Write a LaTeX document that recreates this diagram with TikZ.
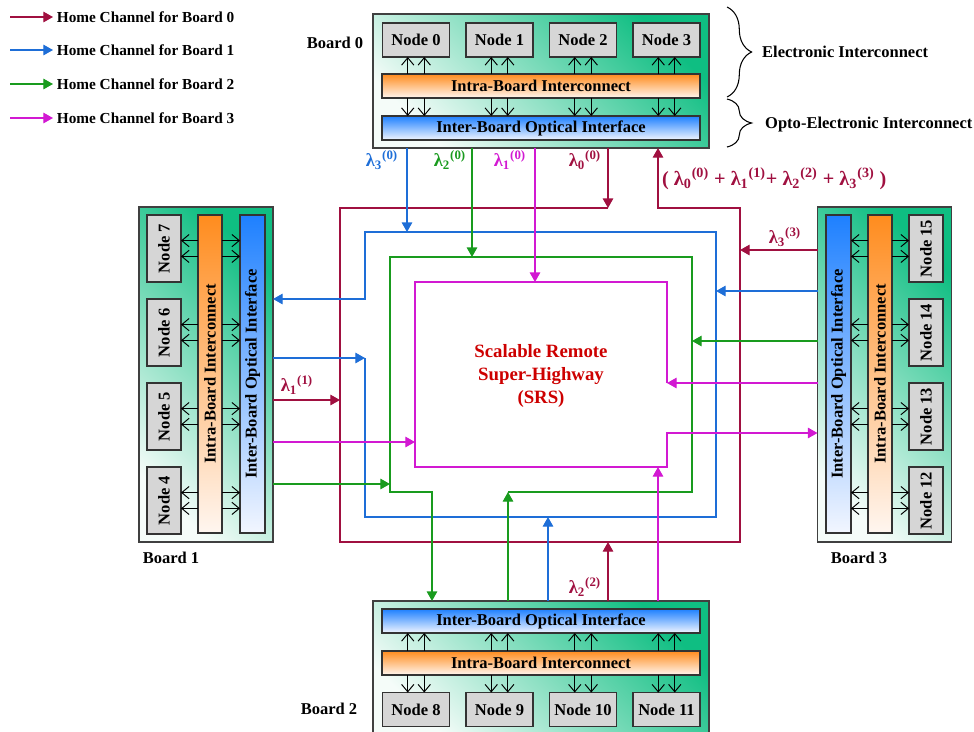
\documentclass[tikz,border=0pt]{standalone}
\usepackage{fontspec}
\setmainfont{Liberation Serif}
\usetikzlibrary{arrows.meta,decorations.pathreplacing}

\definecolor{chzero}{RGB}{160,16,64}
\definecolor{chone}{RGB}{30,110,215}
\definecolor{chtwo}{RGB}{25,155,30}
\definecolor{chthree}{RGB}{210,25,210}
\definecolor{boardgreen}{RGB}{15,190,130}
\definecolor{boardpale}{RGB}{245,252,249}
\definecolor{intraorange}{RGB}{255,140,30}
\definecolor{intrapale}{RGB}{255,246,240}
\definecolor{interblue}{RGB}{30,128,255}
\definecolor{interpale}{RGB}{242,246,255}
\definecolor{srsred}{RGB}{205,0,0}

\newcommand\boxfont{\fontsize{9.4}{11}\selectfont\bfseries}
\newcommand\keyfont{\fontsize{8.7}{10}\selectfont\bfseries}
\newcommand\lamfont{\fontsize{10.5}{12}\selectfont\bfseries}
\newcommand\srsfont{\fontsize{10.7}{13.3}\selectfont\bfseries}

\tikzset{
  board/.style n args={2}{draw=black!75, line width=0.8pt, top color=boardgreen,
    bottom color=boardpale, shading angle=315, minimum width=#1*0.02cm,
    minimum height=#2*0.02cm, inner sep=0pt, outer sep=0pt},
  part/.style n args={2}{draw=black!80, line width=0.6pt, minimum width=#1*0.02cm,
    minimum height=#2*0.02cm, inner sep=0pt, outer sep=0pt, font=\boxfont},
  nodebox/.style={fill=black!16},
  intrabar/.style={top color=intraorange, bottom color=intrapale},
  interbar/.style={top color=interblue, bottom color=interpale},
  barb/.style={-{Straight Barb[length=4.2pt,width=7pt]}, line width=0.55pt},
  tip/.style={-{Triangle[length=5.5pt,width=6pt]}},
  homezero/.style={draw=chzero, line width=0.75pt},
  homeone/.style={draw=chone, line width=0.75pt},
  hometwo/.style={draw=chtwo, line width=0.75pt},
  homethree/.style={draw=chthree, line width=0.75pt},
  lam/.style={font=\lamfont, inner sep=1pt},
  brace/.style={decorate, decoration={brace, amplitude=14pt}, line width=0.6pt}
}

\begin{document}
\begin{tikzpicture}[x=0.02cm,y=-0.02cm]
  \useasboundingbox (0,0) rectangle (974,731);
  \clip (0,0) rectangle (974,731);

  % legend
  \foreach \k/\y/\c in {0/17/homezero,1/50/homeone,2/84/hometwo,3/118/homethree} {
    \node[font=\keyfont, anchor=west, inner sep=2pt] (key\k) at (53,\y) {Home Channel for Board \k};
    \coordinate (keys\k) at (10,\y);
    \draw[\c, tip] (keys\k) -- (key\k.west);
  }

  % board 0
  \node[board={336}{134}] (b0) at (541,81) {};
  \foreach \i/\x in {0/416,1/499.5,2/583,3/666.5}
    \node[part={67}{34}, nodebox] (n\i) at (\x,40) {Node \i};
  \node[part={318}{24}, intrabar] (ia0) at (541,86) {Intra-Board Interconnect};
  \node[part={318}{24}, interbar] (ie0) at (541,128) {Inter-Board Optical Interface};
  \foreach \i in {0,...,3} \foreach \d in {-4.7pt,4.7pt} {
    \draw[barb] ([xshift=\d]n\i.south |- ia0.north) -- ([xshift=\d]n\i.south);
    \draw[barb] ([xshift=\d]n\i.south |- ia0.south) -- ([xshift=\d]n\i.south |- ie0.north);
  }
  \node[font=\boxfont] (lb0) at (335,43) {Board 0};

  % board 2
  \node[board={336}{134}] (b2) at (541,668) {};
  \node[part={318}{24}, interbar] (ie2) at (541,621) {Inter-Board Optical Interface};
  \node[part={318}{24}, intrabar] (ia2) at (541,663) {Intra-Board Interconnect};
  \foreach \i/\x in {8/416,9/499.5,10/583,11/666.5}
    \node[part={67}{34}, nodebox] (n\i) at (\x,709.5) {Node \i};
  \foreach \i in {8,...,11} \foreach \d in {-4.7pt,4.7pt} {
    \draw[barb] ([xshift=\d]n\i.north |- ia2.north) -- ([xshift=\d]n\i.north |- ie2.south);
    \draw[barb] ([xshift=\d]n\i.north |- ia2.south) -- ([xshift=\d]n\i.north);
  }
  \node[font=\boxfont] (lb2) at (329,709) {Board 2};

  % board 1
  \node[board={134}{335}] (b1) at (206,374.5) {};
  \foreach \i/\y in {7/248.5,6/332.5,5/416.5,4/500.5}
    \node[part={34}{67}, nodebox] (n\i) at (164,\y) {\rotatebox{90}{Node \i}};
  \node[part={24}{318}, intrabar] (ia1) at (210,374) {\rotatebox{90}{Intra-Board Interconnect}};
  \node[part={25}{318}, interbar] (ie1) at (252.5,374) {\rotatebox{90}{Inter-Board Optical Interface}};
  \foreach \i in {4,...,7} \foreach \d in {-4.5pt,4.5pt} {
    \draw[barb] ([yshift=\d]ia1.west |- n\i.east) -- ([yshift=\d]n\i.east);
    \draw[barb] ([yshift=\d]ia1.east |- n\i.east) -- ([yshift=\d]ie1.west |- n\i.east);
  }
  \node[font=\boxfont] (lb1) at (171,558) {Board 1};

  % board 3
  \node[board={134}{335}] (b3) at (884.5,374.5) {};
  \node[part={25}{318}, interbar] (ie3) at (838.5,374) {\rotatebox{90}{Inter-Board Optical Interface}};
  \node[part={24}{318}, intrabar] (ia3) at (880,374) {\rotatebox{90}{Intra-Board Interconnect}};
  \foreach \i/\y in {15/248.5,14/332.5,13/416.5,12/500.5}
    \node[part={34}{67}, nodebox] (n\i) at (926,\y) {\rotatebox{90}{Node \i}};
  \foreach \i in {12,...,15} \foreach \d in {-4.5pt,4.5pt} {
    \draw[barb] ([yshift=\d]ia3.west |- n\i.west) -- ([yshift=\d]ie3.east |- n\i.west);
    \draw[barb] ([yshift=\d]ia3.east |- n\i.west) -- ([yshift=\d]n\i.west);
  }
  \node[font=\boxfont] (lb3) at (859,558) {Board 3};

  % braces
  \draw[brace] (727,7) -- (727,97);
  \draw[brace] (727,99) -- (727,147);
  \node[font=\boxfont, anchor=west] (elec) at (756,52) {Electronic Interconnect};
  \node[font=\boxfont, anchor=west] (opto) at (759,125) {Opto-Electronic Interconnect};

  % home channel of board 0
  \coordinate (z0) at (608,208); \coordinate (z1) at (340,400);
  \coordinate (z2) at (608,542); \coordinate (z3) at (740,250);
  \coordinate (zout) at (658,208);
  \draw[homezero, tip] (z0) -- (340,208) -- (340,542) -- (740,542) -- (740,208) -- (zout) -- (zout |- b0.south);
  \draw[homezero, tip] (z0 |- b0.south) -- (z0);
  \draw[homezero, tip] (z1 -| b1.east) -- (z1);
  \draw[homezero, tip] (z2 |- b2.north) -- (z2);
  \draw[homezero, tip] (z3 -| b3.west) -- (z3);

  % home channel of board 1
  \coordinate (o0) at (407,232); \coordinate (o1) at (365,358);
  \coordinate (o2) at (548,517); \coordinate (o3) at (716,291);
  \coordinate (oout) at (365,299);
  \draw[homeone, tip] (o1) -- (365,517) -- (716,517) -- (716,232) -- (365,232) -- (oout) -- (oout -| b1.east);
  \draw[homeone, tip] (o0 |- b0.south) -- (o0);
  \draw[homeone, tip] (o1 -| b1.east) -- (o1);
  \draw[homeone, tip] (o2 |- b2.north) -- (o2);
  \draw[homeone, tip] (o3 -| b3.west) -- (o3);

  % home channel of board 2
  \coordinate (t0) at (472,257); \coordinate (t1) at (390,484);
  \coordinate (t2) at (508,492); \coordinate (t3) at (692,341);
  \coordinate (tout) at (432,492);
  \draw[hometwo, tip] (t2) -- (692,492) -- (692,257) -- (390,257) -- (390,492) -- (tout) -- (tout |- b2.north);
  \draw[hometwo, tip] (t0 |- b0.south) -- (t0);
  \draw[hometwo, tip] (t1 -| b1.east) -- (t1);
  \draw[hometwo, tip] (t2 |- b2.north) -- (t2);
  \draw[hometwo, tip] (t3 -| b3.west) -- (t3);

  % home channel of board 3
  \coordinate (h0) at (535,282); \coordinate (h1) at (415,442);
  \coordinate (h2) at (658,467); \coordinate (h3) at (667,383);
  \coordinate (hout) at (667,433);
  \draw[homethree, tip] (h3) -- (667,282) -- (415,282) -- (415,467) -- (667,467) -- (hout) -- (hout -| b3.west);
  \draw[homethree, tip] (h0 |- b0.south) -- (h0);
  \draw[homethree, tip] (h1 -| b1.east) -- (h1);
  \draw[homethree, tip] (h2 |- b2.north) -- (h2);
  \draw[homethree, tip] (h3 -| b3.west) -- (h3);

  % wavelength labels
  \node[lam, text=chone] (l30) at (382,160) {λ\textsubscript{3}\textsuperscript{(0)}};
  \node[lam, text=chtwo] (l20) at (450,160) {λ\textsubscript{2}\textsuperscript{(0)}};
  \node[lam, text=chthree] (l10) at (510,160) {λ\textsubscript{1}\textsuperscript{(0)}};
  \node[lam, text=chzero] (l00) at (585,160) {λ\textsubscript{0}\textsuperscript{(0)}};
  \node[lam, text=chzero] (l33) at (785,237) {λ\textsubscript{3}\textsuperscript{(3)}};
  \node[lam, text=chzero] (l11) at (297,385) {λ\textsubscript{1}\textsuperscript{(1)}};
  \node[lam, text=chzero] (l22) at (585,587) {λ\textsubscript{2}\textsuperscript{(2)}};
  \node[lam, text=chzero, font=\fontsize{11.5}{13}\selectfont\bfseries, anchor=west] (sum) at (660,179)
    {( λ\textsubscript{0}\textsuperscript{(0)} + λ\textsubscript{1}\textsuperscript{(1)}+ λ\textsubscript{2}\textsuperscript{(2)} + λ\textsubscript{3}\textsuperscript{(3)} )};

  % centre
  \node[font=\srsfont, text=srsred, align=center] (srs) at (541,376) {Scalable Remote\\Super-Highway\\(SRS)};
\end{tikzpicture}
\end{document}
